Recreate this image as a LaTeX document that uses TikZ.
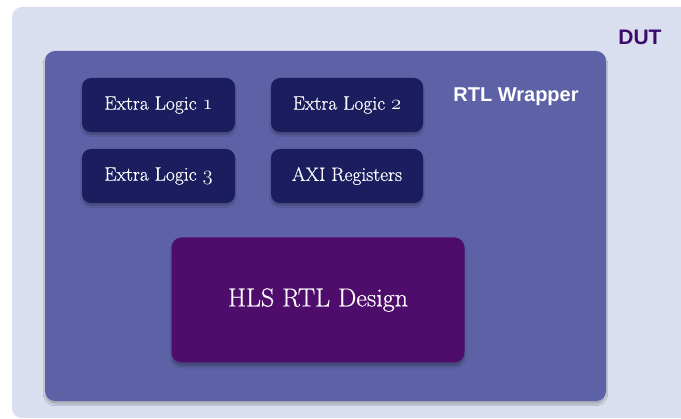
\documentclass[tikz,border=0pt]{standalone}
\usepackage{fontspec}
\newfontfamily\hsans{Liberation Sans}
\newfontfamily\serifb{Latin Modern Roman}[FakeBold=0.6]
\usetikzlibrary{shadows,shadows.blur}
\definecolor{dutbg}{HTML}{DADFEF}
\definecolor{wrapbg}{HTML}{5D62A6}
\definecolor{logicbg}{HTML}{1B1D5F}
\definecolor{hlsbg}{HTML}{4E0D6B}
\definecolor{duttext}{HTML}{3B0A6B}
\newcommand{\osn}[1]{{\usefont{OML}{lmm}{m}{it}#1}}
\tikzset{
  wrapbox/.style={fill=wrapbg, draw=none, rounded corners=10pt, blur shadow={shadow xshift=0pt, shadow yshift=-3pt, shadow blur steps=8, shadow opacity=25}},
  logicbox/.style={fill=logicbg, draw=none, rounded corners=9pt, text=white, font=\serifb\fontsize{19.5}{22}\selectfont, blur shadow={shadow xshift=0pt, shadow yshift=-3pt, shadow blur steps=6, shadow opacity=25}},
  hlsbox/.style={fill=hlsbg, draw=none, rounded corners=10pt, text=white, font=\serifb\fontsize{26}{30}\selectfont, blur shadow={shadow xshift=0pt, shadow yshift=-4pt, shadow blur steps=8, shadow opacity=25}},
  label/.style={font=\hsans\bfseries\fontsize{20}{24}\selectfont, inner sep=0pt}
}
\begin{document}
\begin{tikzpicture}[x=1pt,y=-1pt]
\useasboundingbox (0,0) rectangle (681,419);
\clip (0,0) rectangle (681,419);
\fill[white] (0,0) rectangle (681,419);
\fill[dutbg, rounded corners=10pt] (12,7) rectangle (700,418);
\node[label, text=duttext, font=\hsans\bfseries\fontsize{21}{24}\selectfont] (dut) at (640,37) {DUT};
\path[wrapbox] (45,51) rectangle (606,401);
\node[label, text=white] (wrap) at (516,97) {RTL Wrapper};
\node[logicbox, minimum width=153pt, minimum height=54pt] (el1) at (158.5,105) {Extra Logic \osn{1}};
\node[logicbox, minimum width=152pt, minimum height=54pt] (el2) at (347,105) {Extra Logic \osn{2}};
\node[logicbox, minimum width=153pt, minimum height=54pt] (el3) at (158.5,176) {Extra Logic \osn{3}};
\node[logicbox, minimum width=152pt, minimum height=54pt] (axi) at (347,176) {AXI Registers};
\node[hlsbox, minimum width=293pt, minimum height=125pt] (hls) at (318,300) {HLS RTL Design};
\end{tikzpicture}
\end{document}
